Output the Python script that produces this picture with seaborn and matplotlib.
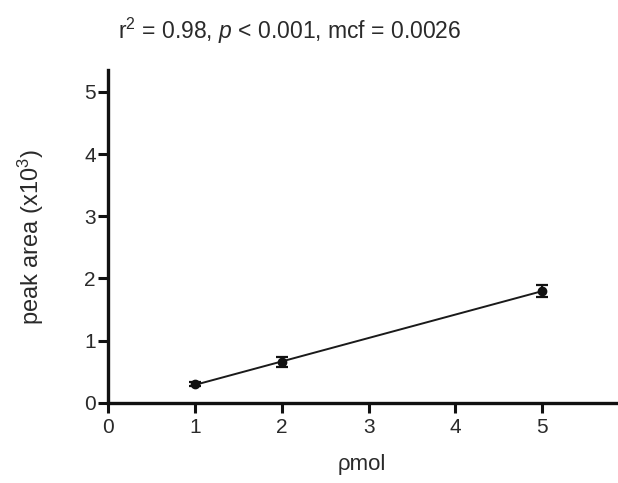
import matplotlib
matplotlib.use("Agg")
import matplotlib.pyplot as plt
import seaborn as sns
import pandas as pd

# Calibration data: amount injected vs. mean peak area (x10^3) with SEM
pmol = [1, 2, 5]
peak_area = [0.30, 0.65, 1.80]
peak_sem = [0.03, 0.08, 0.10]
x_ticks = [0, 1, 2, 3, 4, 5]
y_ticks = [0, 1, 2, 3, 4, 5]
title_text = r"r$^2$ = 0.98, $\it{p}$ < 0.001, mcf = 0.0026"

sns.set_theme(style="ticks")
plt.rcParams["font.family"] = ["Liberation Sans", "DejaVu Sans"]
plt.rcParams["mathtext.fontset"] = "custom"
plt.rcParams["mathtext.rm"] = "Liberation Sans"
plt.rcParams["mathtext.it"] = "Liberation Sans:italic"

df = pd.DataFrame({"pmol": pmol, "area": peak_area, "sem": peak_sem})

fig = plt.figure(figsize=(6.18, 4.83), dpi=100)
ax = fig.add_axes([0.175, 0.166, 0.822, 0.689])

# least-squares line over the measured range
sns.regplot(data=df, x="pmol", y="area", ax=ax, scatter=False, ci=None,
            truncate=True, color="#1a1a1a", line_kws={"linewidth": 1.4})
ax.errorbar(df["pmol"], df["area"], yerr=df["sem"], fmt="o", color="#111111",
            markersize=6, capsize=4, elinewidth=1.6, capthick=1.6, zorder=3)

ax.set_xlim(0, 5.85)
ax.set_ylim(0, 5.35)
ax.set_xticks(x_ticks)
ax.set_yticks(y_ticks)
ax.set_xticklabels([str(t) for t in x_ticks])
ax.set_yticklabels([str(t) for t in y_ticks])
ax.tick_params(axis="both", direction="out", length=7, width=2.2,
               labelsize=15, color="#111111", labelcolor="#2a2a2a", pad=2)
ax.tick_params(axis="x", pad=4)
for side in ("left", "bottom"):
    ax.spines[side].set_linewidth(2.4)
    ax.spines[side].set_color("#111111")
sns.despine(ax=ax)

ax.set_xlabel(r"ρmol", fontsize=16, color="#2a2a2a", labelpad=12)
ax.set_ylabel(r"peak area (x10$^3$)", fontsize=17, color="#2a2a2a", labelpad=27)

fig.text(0.469, 0.935, title_text, ha="center", va="center",
         fontsize=16.5, color="#2a2a2a")

fig.savefig("out.png", dpi=100)
